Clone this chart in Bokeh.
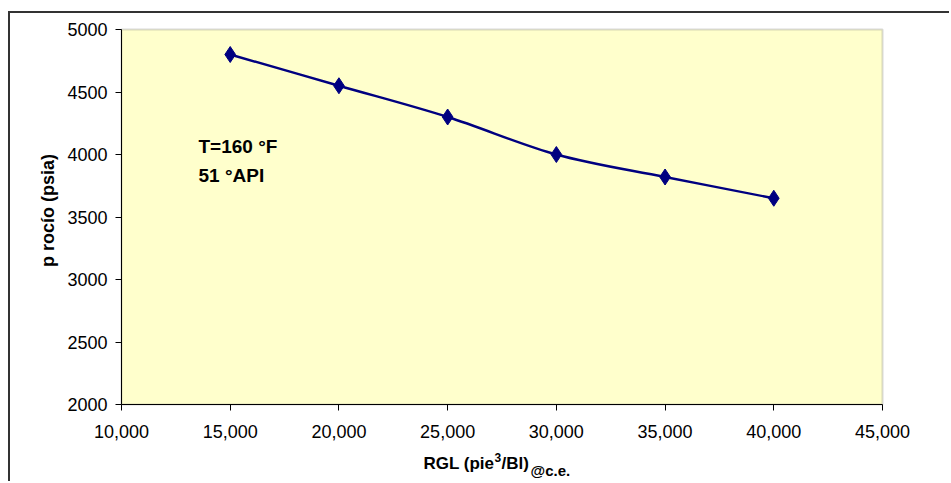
import math
from bokeh.plotting import figure
from bokeh.models import Label, Range1d, FixedTicker, NumeralTickFormatter, BoxAnnotation
from bokeh.embed import file_html
from bokeh.resources import INLINE

# data
rgl = [15000, 20000, 25000, 30000, 35000, 40000]
p_rocio = [4800, 4550, 4300, 4000, 3820, 3650]
x_ticks = [10000, 15000, 20000, 25000, 30000, 35000, 40000, 45000]
y_ticks = [2000, 2500, 3000, 3500, 4000, 4500, 5000]

FONT = "Liberation Sans"
NAVY = "#000080"

# page pixel geometry of the plot area (used only for ranges and text placement)
PX_L, PX_R, PX_T, PX_B = 121, 882, 29, 404
XPX = (x_ticks[-1] - x_ticks[0]) / (PX_R - PX_L)     # x units per pixel
UPX = (y_ticks[-1] - y_ticks[0]) / (PX_B - PX_T)     # y units per pixel
CANVAS_L, CANVAS_T, W, H = 10, 13, 941, 470


def xpix(px):
    return x_ticks[0] + (px - PX_L) * XPX


def ypix(py):
    return y_ticks[-1] - (py - PX_T) * UPX


p = figure(width=W, height=H, output_backend="svg", toolbar_location=None,
           x_range=Range1d(xpix(CANVAS_L), xpix(CANVAS_L + W)),
           y_range=Range1d(ypix(CANVAS_T + H), ypix(CANVAS_T)),
           min_border_left=0, min_border_right=0, min_border_top=0, min_border_bottom=0)
p.title.visible = False
p.styles = {"border-left": "2px solid #333333", "border-top": "2px solid #333333",
            "margin-left": "8px", "margin-top": "11px"}
p.background_fill_color = "white"
p.border_fill_color = "white"
p.outline_line_color = None
p.xgrid.visible = False
p.ygrid.visible = False

# plot area
p.add_layout(BoxAnnotation(left=x_ticks[0], right=x_ticks[-1], bottom=y_ticks[0], top=y_ticks[-1],
                           fill_color="#FFFFCC", fill_alpha=1.0, line_color="#808080",
                           line_width=2, level="underlay"))

for ax in (p.xaxis, p.yaxis):
    ax.axis_line_color = "black"
    ax.axis_line_width = 1
    ax.major_tick_line_color = "black"
    ax.major_tick_in = 0
    ax.major_tick_out = 6
    ax.minor_tick_line_color = None
    ax.major_label_text_font = FONT
    ax.major_label_text_font_size = "18px"
    ax.major_label_text_color = "black"

p.xaxis.fixed_location = y_ticks[0]
p.yaxis.fixed_location = x_ticks[0]
p.xaxis.bounds = (x_ticks[0], x_ticks[-1])
p.yaxis.bounds = (y_ticks[0], y_ticks[-1])
p.xaxis.ticker = FixedTicker(ticks=x_ticks)
p.yaxis.ticker = FixedTicker(ticks=y_ticks)
p.xaxis.formatter = NumeralTickFormatter(format="0,0")
p.yaxis.formatter = NumeralTickFormatter(format="0")
p.xaxis.major_label_standoff = 14
p.yaxis.major_label_standoff = 8

# smoothed line through the points (cubic Bezier, Catmull-Rom style control points)
n = len(rgl)
x0, y0, x1, y1, cx0, cy0, cx1, cy1 = [], [], [], [], [], [], [], []
for i in range(n - 1):
    xp = rgl[i - 1] if i > 0 else rgl[i]
    yp = p_rocio[i - 1] if i > 0 else p_rocio[i]
    xn = rgl[i + 2] if i + 2 < n else rgl[i + 1]
    yn = p_rocio[i + 2] if i + 2 < n else p_rocio[i + 1]
    x0.append(rgl[i]); y0.append(p_rocio[i])
    x1.append(rgl[i + 1]); y1.append(p_rocio[i + 1])
    cx0.append(rgl[i] + (rgl[i + 1] - xp) / 6)
    cy0.append(p_rocio[i] + (p_rocio[i + 1] - yp) / 6)
    cx1.append(rgl[i + 1] - (xn - rgl[i]) / 6)
    cy1.append(p_rocio[i + 1] - (yn - p_rocio[i]) / 6)
p.bezier(x0=x0, y0=y0, x1=x1, y1=y1, cx0=cx0, cy0=cy0, cx1=cx1, cy1=cy1,
         line_color=NAVY, line_width=2.4)
p.scatter(rgl, p_rocio, marker="diamond", size=16, fill_color=NAVY, line_color=NAVY)


def add_text(txt, px, py, fs, align="left", angle=0.0):
    p.add_layout(Label(x=xpix(px), y=ypix(py), text=txt, text_font=FONT, text_font_style="bold",
                       text_font_size=fs, text_color="black", text_align=align,
                       text_baseline="middle", angle=angle))


# annotation text
add_text("T=160 °F", 198, 145.5, "19px")
add_text("51 °API", 198, 174.5, "19px")

# y axis title
add_text("p rocío (psia)", 47, 210, "18px", align="center", angle=math.pi / 2)

# x axis title with superscript / subscript pieces
add_text("RGL (pie", 423, 463, "17px")
add_text("3", 494, 457, "12px")
add_text("/Bl)", 501, 463, "17px")
add_text("@c.e.", 530, 470, "15px")

open("out.html", "w").write(file_html(p, INLINE))
